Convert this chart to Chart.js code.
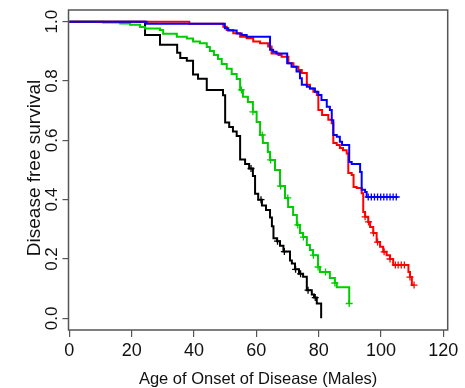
<!DOCTYPE html>
<html>
<head>
<meta charset="utf-8">
<script src="https://cdn.jsdelivr.net/npm/chart.js@4/dist/chart.umd.min.js"></script>
<style>
  html, body { margin: 0; padding: 0; background: #fff; }
  #wrap { width: 465px; height: 388px; }
</style>
</head>
<body>
<div id="wrap"><canvas id="km" width="465" height="388"></canvas></div>
<script>
// Kaplan-Meier step curves: event ages and survival after each drop
const blackAge  = [0, 24.3, 29.1, 34.6, 35.6, 37.7, 39.7, 41.3, 44.1, 49.3, 50.0, 51.3, 52.5, 53.7, 54.8, 56.4, 57.7, 58.9, 59.6, 60.6, 61.8, 63.1, 64.4, 65.0, 65.5, 66.6, 67.6, 68.7, 70.8, 71.4, 72.4, 73.7, 75.0, 76.2, 77.8, 78.5, 79.4, 80.8];
const blackSurv = [1, 0.955, 0.922, 0.895, 0.878, 0.868, 0.822, 0.808, 0.77, 0.752, 0.66, 0.645, 0.63, 0.615, 0.535, 0.52, 0.505, 0.48, 0.42, 0.40, 0.38, 0.365, 0.34, 0.31, 0.27, 0.26, 0.245, 0.225, 0.195, 0.185, 0.165, 0.15, 0.14, 0.095, 0.08, 0.07, 0.05, 0];
const blackLast = 80.8;
const blackCensor = [58.3, 61.5, 66.8, 69.0, 72.6, 74.2, 76.6, 78.9];

const greenAge  = [0, 10.8, 16.3, 19.5, 22.7, 24.3, 29.1, 30.1, 34.5, 37.7, 39.7, 41.9, 44.1, 45.1, 46.4, 47.7, 48.9, 50.5, 52.1, 53.7, 54.8, 55.7, 57.3, 58.9, 60.1, 61.2, 62.1, 63.7, 64.4, 66.0, 67.6, 69.2, 70.2, 71.8, 73.0, 74.0, 75.0, 76.2, 77.2, 78.2, 79.8, 80.4, 83.6, 85.2, 85.8, 89.8];
const greenSurv = [1, 0.997, 0.994, 0.99, 0.982, 0.977, 0.972, 0.959, 0.949, 0.943, 0.933, 0.927, 0.915, 0.901, 0.888, 0.874, 0.857, 0.841, 0.824, 0.807, 0.77, 0.747, 0.729, 0.696, 0.662, 0.618, 0.591, 0.561, 0.534, 0.50, 0.446, 0.406, 0.375, 0.348, 0.315, 0.288, 0.274, 0.247, 0.23, 0.213, 0.173, 0.156, 0.136, 0.119, 0.105, 0.05];
const greenLast = 89.8;
const greenCensor = [55.2, 58.9, 61.9, 64.6, 67.8, 70.1, 73.3, 75.1, 78.3, 79.8, 82.2, 85.2, 89.8];

const redAge  = [0, 38.5, 49.4, 50.5, 52.6, 54.8, 56.9, 59.0, 61.2, 63.8, 64.9, 67.1, 68.1, 70.3, 71.9, 73.5, 74.6, 76.2, 77.2, 78.3, 79.4, 79.9, 81.1, 83.1, 84.2, 84.7, 85.8, 86.8, 87.8, 89.0, 89.5, 90.6, 91.2, 92.2, 93.8, 94.3, 94.9, 95.9, 96.5, 97.5, 98.6, 99.7, 100.7, 101.8, 102.9, 103.9, 108.8, 109.3, 109.9];
const redSurv = [1, 0.993, 0.983, 0.972, 0.961, 0.949, 0.944, 0.933, 0.927, 0.916, 0.893, 0.888, 0.882, 0.86, 0.848, 0.837, 0.827, 0.787, 0.775, 0.764, 0.753, 0.702, 0.685, 0.669, 0.658, 0.591, 0.584, 0.574, 0.567, 0.556, 0.49, 0.483, 0.443, 0.439, 0.422, 0.358, 0.342, 0.325, 0.308, 0.288, 0.257, 0.241, 0.224, 0.213, 0.20, 0.18, 0.156, 0.139, 0.112];
const redLast = 110.6;
const redCensor = [94.9, 96.0, 97.6, 98.9, 101.0, 102.9, 104.6, 105.5, 106.5, 107.5, 109.3, 110.6];

const blueAge  = [0, 24.8, 49.9, 51.0, 53.7, 55.3, 56.9, 64.4, 65.4, 66.5, 69.9, 71.3, 72.9, 74.0, 74.6, 76.2, 77.2, 78.8, 79.9, 80.9, 82.6, 83.6, 84.2, 84.7, 85.8, 86.8, 87.5, 89.8, 90.6, 93.3, 93.8, 94.9, 95.4];
const blueSurv = [1, 0.993, 0.978, 0.97, 0.96, 0.955, 0.949, 0.905, 0.899, 0.893, 0.86, 0.848, 0.832, 0.809, 0.787, 0.781, 0.775, 0.764, 0.753, 0.736, 0.713, 0.702, 0.668, 0.618, 0.612, 0.595, 0.584, 0.527, 0.52, 0.493, 0.433, 0.426, 0.409];
const blueLast = 105.4;
const blueCensor = [95.9, 96.9, 97.9, 98.9, 99.9, 100.9, 101.9, 102.9, 103.9, 104.9];

const xTicks = [0, 20, 40, 60, 80, 100, 120];
const yTicks = [0, 0.2, 0.4, 0.6, 0.8, 1.0];

// survival value at age t (value after the drop if t is an event age)
function survAt(ages, surv, t) {
  let s = 1;
  ages.forEach((a, i) => { if (a <= t) s = surv[i]; });
  return s;
}

function stepLine(ages, surv, last, color, order) {
  const pts = ages.map((a, i) => ({ x: a, y: surv[i] }));
  pts.push({ x: last, y: surv[surv.length - 1] });
  return {
    data: pts, borderColor: color, borderWidth: 2, stepped: 'before',
    pointRadius: 0, fill: false, order
  };
}

function censorMarks(ages, surv, censor, color, order) {
  return {
    data: censor.map(t => ({ x: t, y: survAt(ages, surv, t) })),
    showLine: false, pointStyle: 'cross', pointRadius: 3.5,
    pointBorderWidth: 1.3, borderColor: color, backgroundColor: color, order
  };
}

const font = '"Liberation Sans", Arial, sans-serif';

// R-style box, tick labels and axis titles
const rText = {
  id: 'rText',
  afterDraw(chart) {
    const { ctx, chartArea: a, scales: { x, y } } = chart;
    ctx.save();
    ctx.strokeStyle = '#555';
    ctx.lineWidth = 1.5;
    ctx.strokeRect(a.left, a.top, a.right - a.left, a.bottom - a.top);

    ctx.fillStyle = '#111';
    ctx.font = '18px ' + font;
    ctx.textAlign = 'center';
    ctx.textBaseline = 'alphabetic';
    x.ticks.forEach(t => ctx.fillText(String(t.value), x.getPixelForValue(t.value), 356));

    ctx.font = '17px ' + font;
    y.ticks.forEach(t => {
      ctx.save();
      ctx.translate(56.5, y.getPixelForValue(t.value));
      ctx.rotate(-Math.PI / 2);
      ctx.fillText(t.value.toFixed(1), 0, 0);
      ctx.restore();
    });

    ctx.font = '16.5px ' + font;
    ctx.fillText('Age of Onset of Disease (Males)', (a.left + a.right) / 2, 384);

    ctx.font = '19px ' + font;
    ctx.translate(40, 168);
    ctx.rotate(-Math.PI / 2);
    ctx.fillText('Disease free survival', 0, 0);
    ctx.restore();
  }
};

new Chart(document.getElementById('km'), {
  type: 'line',
  data: {
    datasets: [
      stepLine(blueAge, blueSurv, blueLast, '#0000ff', 0),
      censorMarks(blueAge, blueSurv, blueCensor, '#0000ff', 0),
      stepLine(redAge, redSurv, redLast, '#ff0000', 1),
      censorMarks(redAge, redSurv, redCensor, '#ff0000', 1),
      stepLine(greenAge, greenSurv, greenLast, '#00cd00', 2),
      censorMarks(greenAge, greenSurv, greenCensor, '#00cd00', 2),
      stepLine(blackAge, blackSurv, blackLast, '#000000', 3),
      censorMarks(blackAge, blackSurv, blackCensor, '#000000', 3)
    ]
  },
  options: {
    responsive: false,
    animation: false,
    layout: { padding: { top: 10, right: 17.3, bottom: 0, left: 0 } },
    plugins: { legend: { display: false }, tooltip: { enabled: false } },
    scales: {
      x: {
        type: 'linear', min: -0.26, max: 121.4,
        afterBuildTicks: s => { s.ticks = xTicks.map(v => ({ value: v })); },
        afterFit: s => { s.height = 58; },
        ticks: { display: false },
        grid: { drawOnChartArea: false, drawTicks: true, tickLength: 7, color: '#555', lineWidth: 1.2 },
        border: { display: false }
      },
      y: {
        min: -0.0394, max: 1.0394,
        afterBuildTicks: s => { s.ticks = yTicks.map(v => ({ value: v })); },
        afterFit: s => { s.width = 68.5; },
        ticks: { display: false },
        grid: { drawOnChartArea: false, drawTicks: true, tickLength: 6, color: '#555', lineWidth: 1.2 },
        border: { display: false }
      }
    }
  },
  plugins: [rText]
});
</script>
</body>
</html>
